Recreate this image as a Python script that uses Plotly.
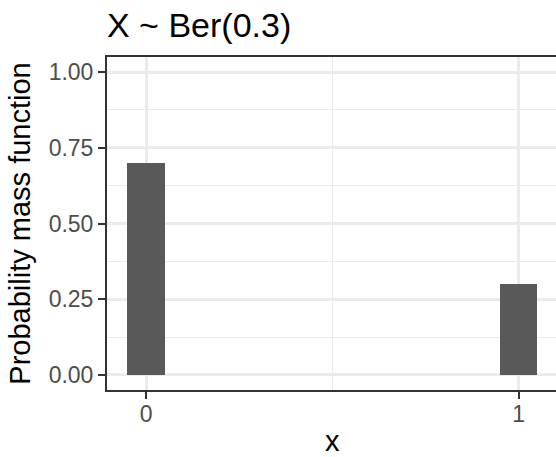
import plotly.graph_objects as go

x_vals = [0, 1]
pmf = [0.7, 0.3]
x_ticks = [0, 1]
y_ticks = [0.0, 0.25, 0.5, 0.75, 1.0]
y_tick_text = ["0.00", "0.25", "0.50", "0.75", "1.00"]
title_text = "X ~ Ber(0.3)"
x_title = "x"
y_title = "Probability mass function"

FONT = "Liberation Sans, Arial, Helvetica, sans-serif"

W, H = 556, 457
T, B = 57, 67
plot_h = H - T - B

fig = go.Figure()
fig.add_trace(go.Bar(x=x_vals, y=pmf, width=0.1,
                     marker=dict(color="#595959", line=dict(width=0))))

fig.update_layout(
    width=W, height=H,
    margin=dict(l=107, r=0, t=T, b=B, autoexpand=False),
    paper_bgcolor="white", plot_bgcolor="white",
    showlegend=False,
    font=dict(family=FONT),
    title=dict(text=title_text, font=dict(size=34, color="black", family=FONT),
               x=107/W, xref="container", xanchor="left",
               y=1 - 25/H, yref="container", yanchor="middle"),
    bargap=0,
)

# x axis title placed as an annotation so it can sit low in the bottom margin
fig.add_annotation(text=x_title, xref="x", x=0.5, yref="paper",
                   y=-(441 - (H - B)) / plot_h, yanchor="middle", xanchor="center",
                   showarrow=False, font=dict(size=29, color="black", family=FONT))

fig.update_xaxes(
    range=[-0.105, 1.1], tickvals=x_ticks, ticktext=[str(v) for v in x_ticks],
    showgrid=True, gridcolor="#EBEBEB", gridwidth=2.5,
    minor=dict(tickvals=[0.5], showgrid=True, gridcolor="#EBEBEB", gridwidth=1.3, ticks=""),
    showline=True, mirror=True, linecolor="#333333", linewidth=2,
    ticks="outside", ticklen=7, tickwidth=2, tickcolor="#333333",
    tickfont=dict(size=23, color="#4D4D4D"),
    ticklabelstandoff=-5,
    zeroline=False,
)
fig.update_yaxes(
    range=[-0.05, 1.05], tickvals=y_ticks, ticktext=y_tick_text,
    showgrid=True, gridcolor="#EBEBEB", gridwidth=2.5,
    minor=dict(tickvals=[0.125, 0.375, 0.625, 0.875], showgrid=True,
               gridcolor="#EBEBEB", gridwidth=1.3, ticks=""),
    showline=True, mirror=False, linecolor="#333333", linewidth=2,
    ticks="outside", ticklen=7, tickwidth=2, tickcolor="#333333",
    tickfont=dict(size=23, color="#4D4D4D"),
    zeroline=False,
    title=dict(text=y_title, font=dict(size=29, color="black"), standoff=9),
)

fig.write_html("out.html",
               config={"displayModeBar": False},
               post_script="document.body.style.margin='0';document.body.style.overflow='hidden';")
